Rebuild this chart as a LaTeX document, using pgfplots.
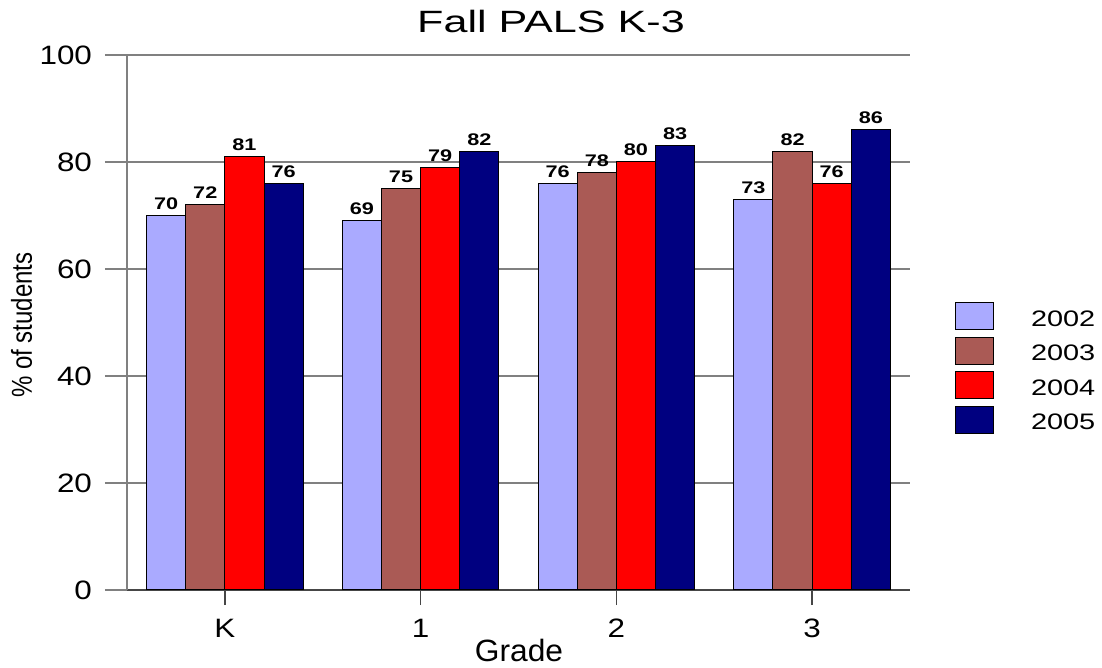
\documentclass[border=0pt]{standalone}
\usepackage{fontspec}
\setmainfont{Liberation Sans}
\newfontfamily\titlefont[FakeStretch=1.4]{Liberation Sans}
\newfontfamily\tickfont[FakeStretch=1.18]{Liberation Sans}
\newfontfamily\legfont[FakeStretch=1.29]{Liberation Sans}
\newfontfamily\gradefont[FakeStretch=1.03]{Liberation Sans}
\usepackage{pgfplots}
\pgfplotsset{compat=1.18}
\definecolor{c2002}{RGB}{170,170,255}
\definecolor{c2003}{RGB}{170,90,85}
\definecolor{c2004}{RGB}{255,0,0}
\definecolor{c2005}{RGB}{0,0,128}
\definecolor{gridgray}{RGB}{128,128,128}
\definecolor{axisdark}{RGB}{70,70,70}

\pgfplotsset{
  legbox/.style={legend image code/.code={%
    \draw[##1, draw=black, line width=0.5pt] (0pt,-4.75pt) rectangle (19pt,8.75pt);}},
}

\begin{document}
\begin{tikzpicture}
\useasboundingbox (-63.5pt,-39pt) rectangle (487.5pt,295pt);
\begin{axis}[
    at={(0pt,0pt)}, anchor=south west,
    scale only axis, width=391.5pt, height=267.5pt,
    ybar, bar width=0.2,
    xmin=-0.5, xmax=3.5, ymin=0, ymax=100,
    xtick={0,1,2,3}, xticklabels={K,1,2,3},
    ytick={0,20,...,100},
    /pgf/number format/assume math mode=true,
    axis x line*=bottom, axis y line*=left,
    axis line style={gridgray, line width=0.8pt, -},
    x axis line style={axisdark},
    ymajorgrids, major grid style={gridgray, line width=0.8pt},
    tick align=outside, major tick length=11pt,
    tick style={gridgray, line width=0.8pt},
    xtick style={/pgfplots/major tick length=7.5pt, axisdark},
    xticklabel style={font=\tickfont\fontsize{13.3}{16}\selectfont},
    yticklabel style={font=\tickfont\fontsize{13.3}{16}\selectfont, xshift=-3pt},
    title={Fall PALS K-3},
    title style={at={(0.5415,1)}, anchor=center, yshift=10.5pt,
      font=\titlefont\fontsize{15.4}{18}\selectfont},
    xlabel={Grade},
    xlabel style={at={(0.5006,0)}, anchor=base, yshift=-36pt,
      font=\gradefont\fontsize{15.4}{18}\selectfont},
    ylabel={\scalebox{1}[1.2]{\% of students}},
    ylabel style={at={([xshift=-47.5pt]axis description cs:0,0.495)}, anchor=base,
      font=\fontsize{12}{14}\selectfont},
    nodes near coords,
    nodes near coords style={anchor=base, yshift=3pt, inner sep=0pt,
      font=\legfont\bfseries\fontsize{8.4}{10}\selectfont},
    legend style={draw=none, fill=none, at={(1.0575,0.538)}, anchor=north west,
      inner sep=0pt, outer sep=0pt, row sep=3.25pt, column sep=18.5pt,
      font=\legfont\fontsize{11.2}{13}\selectfont, nodes={inner sep=0pt}},
    legend cell align=left,
    clip=false,
]
\addplot[fill=c2002, draw=black, line width=0.5pt, bar shift=-0.3, legbox]
  coordinates {(0,70) (1,69) (2,76) (3,73)};
\addplot[fill=c2003, draw=black, line width=0.5pt, bar shift=-0.1, legbox]
  coordinates {(0,72) (1,75) (2,78) (3,82)};
\addplot[fill=c2004, draw=black, line width=0.5pt, bar shift=0.1, legbox]
  coordinates {(0,81) (1,79) (2,80) (3,76)};
\addplot[fill=c2005, draw=black, line width=0.5pt, bar shift=0.3, legbox]
  coordinates {(0,76) (1,82) (2,83) (3,86)};
\legend{2002,2003,2004,2005}
\end{axis}
\end{tikzpicture}
\end{document}
